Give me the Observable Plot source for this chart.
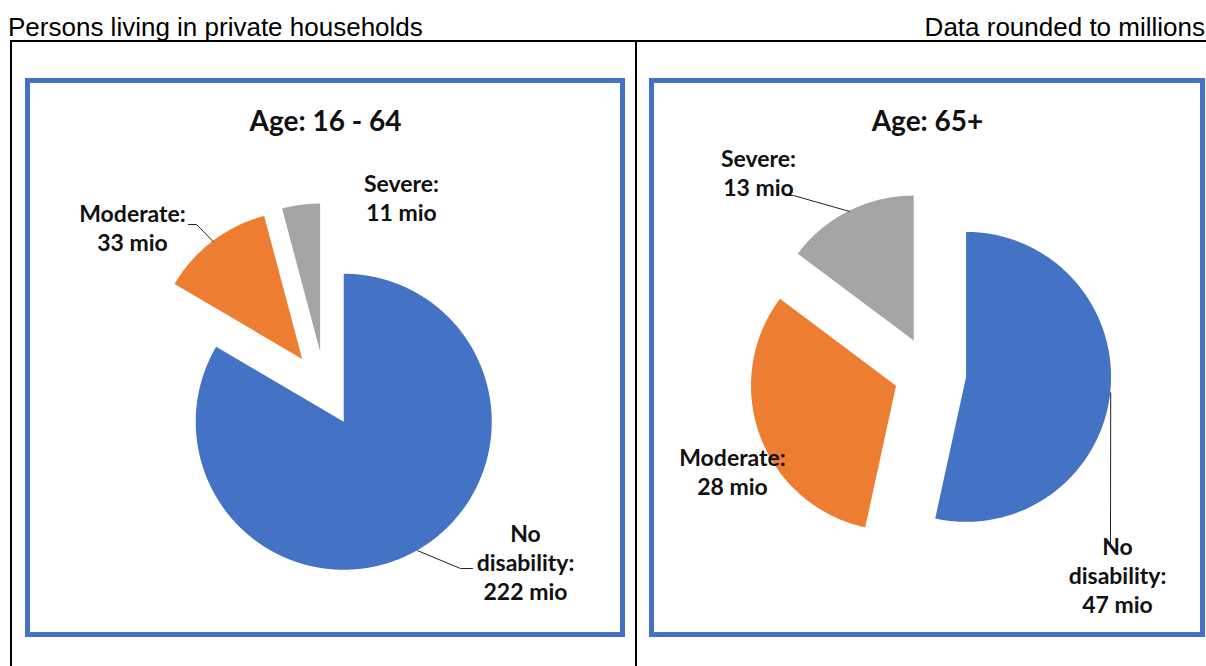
<!DOCTYPE html>
<html>
<head>
<meta charset="utf-8">
<script src="https://cdn.jsdelivr.net/npm/d3@7"></script>
<script src="https://cdn.jsdelivr.net/npm/@observablehq/plot@0.6"></script>
<style>
  html, body { margin: 0; padding: 0; background: #fff; }
  #page { position: relative; width: 1206px; height: 666px; overflow: hidden; background: #fff; }
  .hdr { position: absolute; top: 14px; font-family: "Liberation Sans", Arial, sans-serif; font-size: 26px; line-height: 26px; color: #000; white-space: nowrap; }
  .rule { position: absolute; background: #000; }
  .box { position: absolute; box-sizing: border-box; border: 5px solid #4472C4; background: #fff; }
  .box svg { display: block; }
</style>
</head>
<body>
<div id="page">
  <div class="hdr" style="left:8px">Persons living in private households</div>
  <div class="hdr" style="right:1px">Data rounded to millions</div>
  <div class="rule" style="left:10px;top:40px;width:1196px;height:2px"></div>
  <div class="rule" style="left:10px;top:40px;width:2px;height:626px"></div>
  <div class="rule" style="left:635px;top:40px;width:2px;height:626px"></div>
  <div class="box" id="box1" style="left:25px;top:78px;width:600px;height:559px"></div>
  <div class="box" id="box2" style="left:649px;top:78px;width:556px;height:559px"></div>
</div>
<script>
// ---- data ----
const categories = ["No disability", "Moderate", "Severe"];
const colors = ["#4472C4", "#ED7D31", "#A5A5A5"];
const panelTitles = ["Age: 16 - 64", "Age: 65+"];
const values1664 = [222, 33, 11];
const values65 = [47, 28, 13];
const labelHeads = ["No\ndisability:", "Moderate:", "Severe:"];
const unit = "mio";

// ---- layout (pixels, relative to the pie centre) ----
const layouts = [
  {
    box: "#box1", W: 590, H: 549, cx: 295, cy: 306, r: 148, explode: 0.255,
    labels: [[200, 210], [-193, -139], [76, -169]],
    leaders: [
      {slice: 0, pts: [[135, 179], [147, 179]]},
      {slice: 1, pts: [[-129, -165], [-137, -165]]}
    ]
  },
  {
    box: "#box2", W: 546, H: 549, cx: 276, cy: 290, r: 145, explode: 0.25,
    labels: [[187, 239], [-198, 121], [-172, -178]],
    leaders: [
      {slice: 0, pts: [[180, 171]]},
      {slice: 2, pts: [[-137, -178], [-145, -178]]}
    ]
  }
];

function piePanel(title, values, L) {
  const {W, H, cx, cy, r, explode} = L;
  const arcs = d3.pie().sort(null).value(d => d)(values);
  const wedge = [];
  const mids = [];
  arcs.forEach((a, i) => {
    const mid = (a.startAngle + a.endAngle) / 2;
    const ox = explode * Math.sin(mid), oy = explode * Math.cos(mid);
    mids.push({mid, ox, oy});
    const n = Math.max(2, Math.ceil((a.endAngle - a.startAngle) / (Math.PI / 360)));
    for (let k = 0; k <= n; k++) {
      const t = a.startAngle + (a.endAngle - a.startAngle) * k / n;
      wedge.push({cat: categories[i], ax: ox, ay: oy, px: ox + Math.sin(t), py: oy + Math.cos(t)});
    }
  });
  const labelData = values.map((v, i) => ({
    text: `${labelHeads[i]}\n${v} ${unit}`,
    x: L.labels[i][0] / r,
    y: -L.labels[i][1] / r
  }));
  const leaderData = [];
  L.leaders.forEach((ld, j) => {
    const m = mids[ld.slice];
    leaderData.push({id: j, x: m.ox + Math.sin(m.mid), y: m.oy + Math.cos(m.mid)});
    ld.pts.forEach(p => leaderData.push({id: j, x: p[0] / r, y: -p[1] / r}));
  });
  return Plot.plot({
    width: W, height: H,
    margin: 0,
    style: {background: "#fff", overflow: "visible"},
    x: {domain: [-cx / r, (W - cx) / r], range: [0, W], axis: null},
    y: {domain: [(cy - H) / r, cy / r], range: [H, 0], axis: null},
    color: {domain: categories, range: colors},
    marks: [
      Plot.area(wedge, {x1: "ax", y1: "ay", x2: "px", y2: "py", z: "cat", fill: "cat", stroke: "none"}),
      Plot.line(leaderData, {x: "x", y: "y", z: "id", stroke: "#222", strokeWidth: 1}),
      Plot.text(labelData, {
        x: "x", y: "y", text: "text", textAnchor: "middle", lineAnchor: "bottom",
        lineHeight: 1.26, fontSize: 23, fontWeight: 700, fontFamily: "Lato, 'Open Sans', sans-serif", fill: "#111"
      }),
      Plot.text([title], {
        frameAnchor: "top", dy: 47, lineAnchor: "bottom", textAnchor: "middle",
        fontSize: 28, fontWeight: 700, fontFamily: "Lato, 'Open Sans', sans-serif", fill: "#111"
      })
    ]
  });
}

const allValues = [values1664, values65];
layouts.forEach((L, i) => {
  document.querySelector(L.box).appendChild(piePanel(panelTitles[i], allValues[i], L));
});
</script>
</body>
</html>
